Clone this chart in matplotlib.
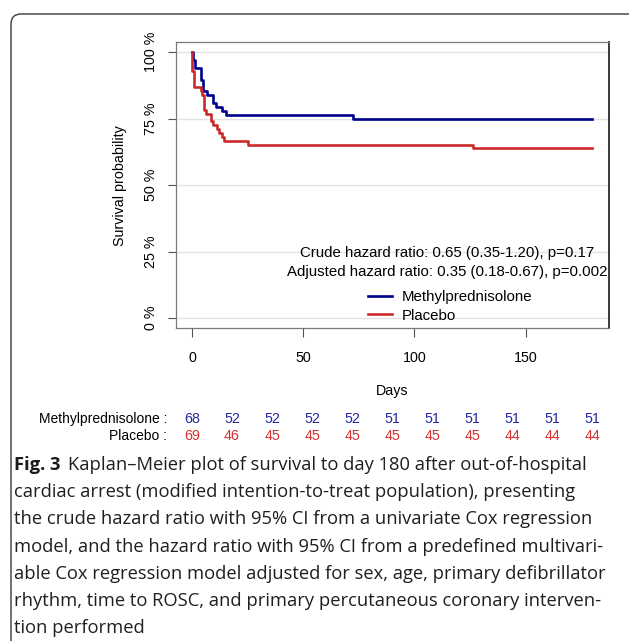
import matplotlib
matplotlib.use("Agg")
import matplotlib.pyplot as plt
import matplotlib.transforms as mtrans
from matplotlib.patches import FancyBboxPatch
import numpy as np

# Kaplan-Meier steps (day of event, survivors after it)
mp_n = 68
mp_days = [0, 0.4, 1.2, 4.0, 5.0, 6.6, 9.3, 11.0, 13.5, 15.2, 72.2, 180]
mp_alive = [68, 66, 64, 61, 58, 57, 55, 54, 53, 52, 51, 51]

pl_n = 69
pl_days = [0, 0.2, 1.0, 3.9, 4.7, 5.5, 6.3, 8.6, 9.6, 11.4, 12.3, 13.3, 14.5, 25.0, 126.3, 180]
pl_alive = [69, 64, 60, 59, 58, 54, 53, 51, 50, 49, 48, 47, 46, 45, 44, 44]

# numbers at risk
risk_days = [0, 18, 36, 54, 72, 90, 108, 126, 144, 162, 180]
risk_mp = [68, 52, 52, 52, 52, 51, 51, 51, 51, 51, 51]
risk_pl = [69, 46, 45, 45, 45, 45, 45, 45, 44, 44, 44]

y_ticks = [0, 25, 50, 75, 100]
x_ticks = [0, 50, 100, 150]

hr_text = ["Crude hazard ratio: 0.65 (0.35-1.20), p=0.17",
           "Adjusted hazard ratio: 0.35 (0.18-0.67), p=0.002"]

caption_bold = "Fig. 3"
caption_lines = [
    "Kaplan\u2013Meier plot of survival to day 180 after out-of-hospital",
    "cardiac arrest (modified intention-to-treat population), presenting",
    "the crude hazard ratio with 95% CI from a univariate Cox regression",
    "model, and the hazard ratio with 95% CI from a predefined multivari-",
    "able Cox regression model adjusted for sex, age, primary defibrillator",
    "rhythm, time to ROSC, and primary percutaneous coronary interven-",
    "tion performed",
]

blue = "#00008f"
red = "#cc2a2a"
blue_txt = "#25259c"
red_txt = "#d43030"

W, H = 629, 641
plt.rcParams['font.family'] = ['Liberation Sans', 'DejaVu Sans']
fig = plt.figure(figsize=(W / 100, H / 100), dpi=100)

# outer rounded frame (runs off the right and bottom edge)
frame = FancyBboxPatch((11, -40), 700, H - 14 + 40,
                       boxstyle="round,pad=0,rounding_size=10",
                       transform=mtrans.IdentityTransform(),
                       fill=False, ec="#4a4a4a", lw=1.1)
fig.patches.append(frame)

ax_l, ax_r, ax_t, ax_b = 176, 609, 42.3, 328
ax = fig.add_axes([ax_l / W, 1 - ax_b / H, (ax_r - ax_l) / W, (ax_b - ax_t) / H])

ax.step(mp_days, 100 * np.array(mp_alive) / mp_n, where="post", color=blue, lw=1.9,
        label="Methylprednisolone", zorder=3)
ax.step(pl_days, 100 * np.array(pl_alive) / pl_n, where="post", color=red, lw=1.9,
        label="Placebo", zorder=3)

ax.set_xlim(-7.2, 187.5)
ax.set_ylim(-3.76, 103.7)
ax.set_yticks(y_ticks)
ax.set_yticklabels([f"{t} %" for t in y_ticks], rotation=90, va="center")
ax.set_xticks(x_ticks)
ax.tick_params(axis="y", length=6, width=0.8, color="#555555", pad=7, labelsize=10.3)
ax.tick_params(axis="x", length=6.5, width=0.8, color="#555555", pad=10, labelsize=10.3)
ax.grid(axis="y", color="#e3e3e3", lw=1.0, zorder=0)
for side in ["left", "top", "bottom"]:
    ax.spines[side].set_color("#7a7a7a")
    ax.spines[side].set_linewidth(0.9)
ax.spines["right"].set_color("#3a3a3a")
ax.spines["right"].set_linewidth(1.4)

ax.set_ylabel("Survival probability", fontsize=10.3, labelpad=12)
ax.set_xlabel("Days", fontsize=10.3, labelpad=14)

ax.text(0.626, 0.2625, hr_text[0], transform=ax.transAxes, ha="center", va="center", fontsize=10.8)
ax.text(0.626, 0.196, hr_text[1], transform=ax.transAxes, ha="center", va="center", fontsize=10.8)

ax.legend(loc="upper left", bbox_to_anchor=((368 - ax_l) / (ax_r - ax_l), (ax_b - 290) / (ax_b - ax_t)),
          frameon=False, fontsize=10.8, handlelength=1.6, handletextpad=0.65,
          labelspacing=0.3, borderpad=0, borderaxespad=0)

# numbers at risk table
tr = mtrans.blended_transform_factory(ax.transData, fig.transFigure)
for d, a, b in zip(risk_days, risk_mp, risk_pl):
    ax.text(d, 1 - 419 / H, str(a), transform=tr, ha="center", va="center",
            fontsize=10.3, color=blue_txt, clip_on=False)
    ax.text(d, 1 - 436 / H, str(b), transform=tr, ha="center", va="center",
            fontsize=10.3, color=red_txt, clip_on=False)
fig.text(167 / W, 1 - 419 / H, "Methylprednisolone :", ha="right", va="center", fontsize=10)
fig.text(167 / W, 1 - 436 / H, "Placebo :", ha="right", va="center", fontsize=10)

# caption
cap_font = "Open Sans"
cap_size = 13.2
x0 = 14
y0 = 465
dy = 27.2
fb = fig.text(x0 / W, 1 - y0 / H, caption_bold, ha="left", va="center",
              fontsize=cap_size, family=cap_font, weight="bold", color="#1a1a1a")
renderer = fig.canvas.get_renderer()
bb = fb.get_window_extent(renderer)
for i, line in enumerate(caption_lines):
    if i == 0:
        xs = (bb.x1 + 8) / W
    else:
        xs = x0 / W
    fig.text(xs, 1 - (y0 + i * dy) / H, line, ha="left", va="center",
             fontsize=cap_size, family=cap_font, color="#1f1f1f")

fig.savefig("out.png", dpi=100)
